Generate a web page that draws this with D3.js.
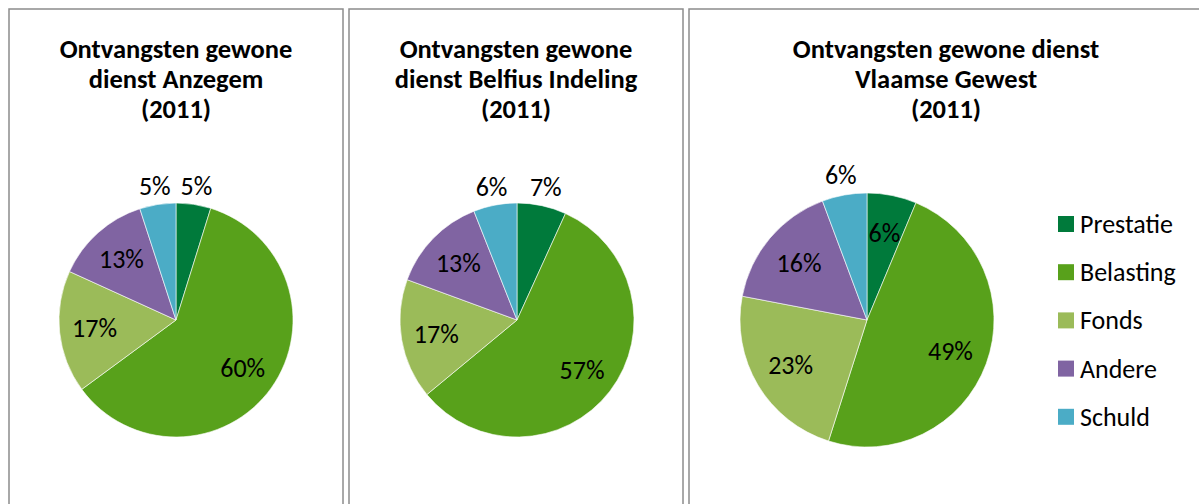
<!DOCTYPE html>
<html lang="en">
<head>
    <meta charset="UTF-8">
    <title>Ontvangsten gewone dienst (2011)</title>
    <script src="https://d3js.org/d3.v7.min.js"></script>
    <style>
        body {
            margin: 0;
            padding: 0;
            background: #fff;
            font-family: Carlito, Calibri, "Open Sans", sans-serif;
        }

        .panel {
            fill: #fff;
            stroke: #8c8c8c;
            stroke-width: 1.5;
        }

        .title {
            font-weight: bold;
            font-size: 26.5px;
            fill: #000;
        }

        .slice-label, .legend-label {
            font-size: 26px;
            fill: #000;
        }
    </style>
</head>
<body>
    <svg id="chart"></svg>

    <script>
        const width = 1199, height = 504;

        // categories (same order for every pie, clockwise from 12 o'clock)
        const categories = ["Prestatie", "Belasting", "Fonds", "Andere", "Schuld"];
        const colors = ["#007a3b", "#58a11b", "#9bbb59", "#8064a2", "#4bacc6"];

        // shares in % per chart
        const anzegem = [4.8, 60.1, 16.9, 13.2, 5.0];
        const belfius = [6.8, 57.2, 16.6, 13.4, 6.0];
        const vlaams = [6.3, 48.6, 23.1, 16.3, 5.7];

        const titles = [
            ["Ontvangsten gewone", "dienst Anzegem", "(2011)"],
            ["Ontvangsten gewone", "dienst Belfius Indeling", "(2011)"],
            ["Ontvangsten gewone dienst", "Vlaamse Gewest", "(2011)"]
        ];

        // which slices get their label outside the pie
        const outsideLabels = [
            ["Prestatie", "Schuld"],
            ["Prestatie", "Schuld"],
            ["Schuld"]
        ];

        const series = [anzegem, belfius, vlaams];

        const svg = d3.select("#chart").attr("width", width).attr("height", height);

        // panel layout
        const panels = [
            { x: 9, w: 334, pieX: 167, r: 117, legend: false },
            { x: 349, w: 334, pieX: 168, r: 117, legend: false },
            { x: 689, w: 514, pieX: 178, r: 127, legend: true }
        ];
        const panelTop = 9, pieY = 320;

        const color = d3.scaleOrdinal().domain(categories).range(colors);
        const pie = d3.pie().sort(null).value(d => d.value);

        panels.forEach((p, i) => {
            const g = svg.append("g").attr("transform", `translate(${p.x},${panelTop})`);

            g.append("rect")
                .attr("class", "panel")
                .attr("width", p.w)
                .attr("height", height + 20);

            // title, three lines
            g.append("text")
                .attr("class", "title")
                .attr("text-anchor", "middle")
                .attr("x", p.w / 2)
                .attr("y", 58 - panelTop)
                .selectAll("tspan")
                .data(titles[i])
                .join("tspan")
                .attr("x", p.w / 2)
                .attr("dy", (d, j) => j === 0 ? 0 : 30)
                .text(d => d);

            const data = categories.map((c, j) => ({ cat: c, value: series[i][j] }));
            const arcs = pie(data);
            const arc = d3.arc().innerRadius(0).outerRadius(p.r);
            const inLabel = d3.arc().innerRadius(p.r * 0.7).outerRadius(p.r * 0.7);
            const outLabel = d3.arc().innerRadius(p.r * 1.16).outerRadius(p.r * 1.16);

            const pg = g.append("g").attr("transform", `translate(${p.pieX},${pieY - panelTop})`);

            pg.selectAll("path")
                .data(arcs)
                .join("path")
                .attr("d", arc)
                .attr("fill", d => color(d.data.cat))
                .attr("stroke", "#fff")
                .attr("stroke-width", 0.6);

            pg.selectAll("text")
                .data(arcs)
                .join("text")
                .attr("class", "slice-label")
                .attr("text-anchor", "middle")
                .attr("dominant-baseline", "central")
                .attr("transform", d => {
                    const a = outsideLabels[i].includes(d.data.cat) ? outLabel : inLabel;
                    return `translate(${a.centroid(d)})`;
                })
                .text(d => Math.round(d.data.value) + "%");

            if (p.legend) {
                const lg = g.append("g").attr("transform", `translate(369,${224 - panelTop})`);
                const item = lg.selectAll("g")
                    .data(categories)
                    .join("g")
                    .attr("transform", (d, j) => `translate(0,${j * 48.2})`);
                item.append("rect")
                    .attr("x", 0)
                    .attr("y", -8)
                    .attr("width", 16)
                    .attr("height", 16)
                    .attr("fill", d => color(d));
                item.append("text")
                    .attr("class", "legend-label")
                    .attr("x", 22)
                    .attr("dominant-baseline", "central")
                    .text(d => d);
            }
        });
    </script>
</body>
</html>
